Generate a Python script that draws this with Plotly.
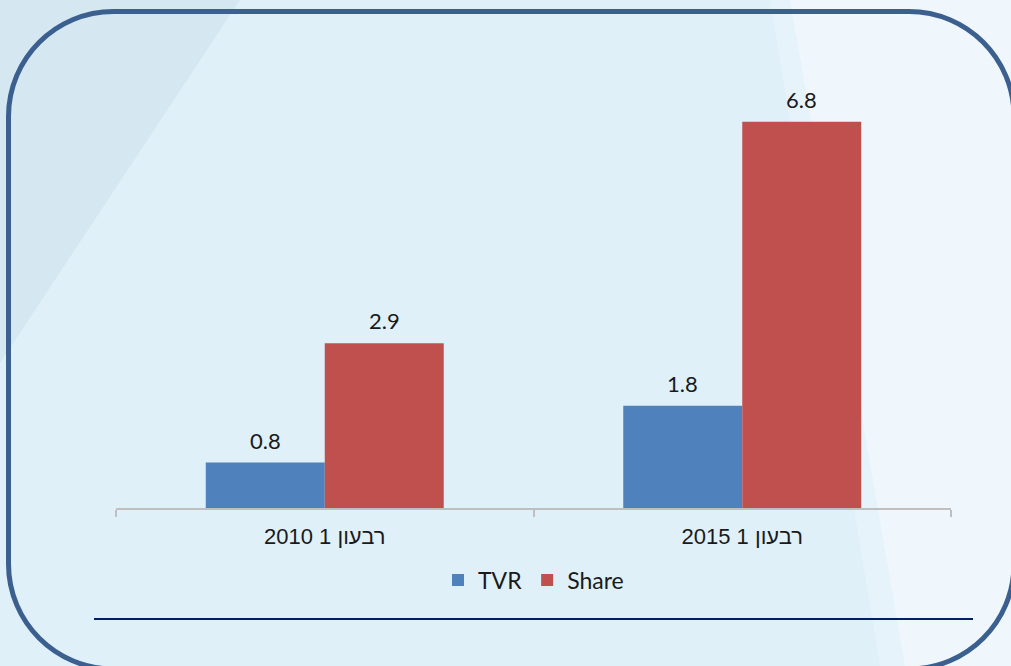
import plotly.graph_objects as go

categories = ["רבעון 1 2010", "רבעון 1 2015"]
series_names = ["TVR", "Share"]
tvr_values = [0.8, 1.8]
share_values = [2.9, 6.8]
value_labels_tvr = ["0.8", "1.8"]
value_labels_share = ["2.9", "6.8"]

W, H = 1011, 666
L, R, T, B = 116, 951, 80, 508  # plot area in pixels
PX_PER_UNIT = 56.8
YMAX = (B - T) / PX_PER_UNIT
BARGAP = 0.43
CAT_PX = (R - L) / len(categories)
BAR_PX = CAT_PX * (1 - BARGAP) / 2

LABEL_FONT = dict(family="Lato, Open Sans, sans-serif", size=22, color="#1a1a1a")


def px(x):
    return (x - L) / (R - L)


def py(y):
    return (B - y) / (B - T)


def path(points, close=True):
    s = "M" + " L".join(f"{px(x):.5f},{py(y):.5f}" for x, y in points)
    return s + (" Z" if close else "")


def rounded_rect(x0, y0, x1, y1, r):
    k = 0.5523 * r
    P = lambda x, y: f"{px(x):.5f},{py(y):.5f}"
    return (
        f"M{P(x0 + r, y0)} L{P(x1 - r, y0)} "
        f"C{P(x1 - r + k, y0)} {P(x1, y0 + r - k)} {P(x1, y0 + r)} "
        f"L{P(x1, y1 - r)} "
        f"C{P(x1, y1 - r + k)} {P(x1 - r + k, y1)} {P(x1 - r, y1)} "
        f"L{P(x0 + r, y1)} "
        f"C{P(x0 + r - k, y1)} {P(x0, y1 - r + k)} {P(x0, y1 - r)} "
        f"L{P(x0, y0 + r)} "
        f"C{P(x0, y0 + r - k)} {P(x0 + r - k, y0)} {P(x0 + r, y0)} Z"
    )


fig = go.Figure()
fig.add_trace(go.Bar(
    name=series_names[0], x=categories, y=tvr_values,
    marker=dict(color="#4F81BD", line=dict(width=0)),
    hoverinfo="skip",
))
fig.add_trace(go.Bar(
    name=series_names[1], x=categories, y=share_values,
    marker=dict(color="#C0504D", line=dict(width=0)),
    hoverinfo="skip",
))

annotations = []
for vals, labels, side in ((tvr_values, value_labels_tvr, -1), (share_values, value_labels_share, 1)):
    for cat, v, lab in zip(categories, vals, labels):
        annotations.append(dict(
            xref="x", yref="y", x=cat, y=v, text=lab, showarrow=False,
            xanchor="center", yanchor="bottom", xshift=side * BAR_PX / 2, yshift=7,
            font=LABEL_FONT,
        ))

shapes = [
    dict(type="path", xref="paper", yref="paper", layer="below",
         path=path([(0, 0), (240, 0), (0, 363)]),
         fillcolor="#D5E7F1", line=dict(width=0)),
    dict(type="path", xref="paper", yref="paper", layer="below",
         path=path([(770, 0), (790, 0), (905, 666), (880, 666)]),
         fillcolor="#E6F3FB", line=dict(width=0)),
    dict(type="path", xref="paper", yref="paper", layer="below",
         path=path([(790, 0), (1011, 0), (1011, 666), (905, 666)]),
         fillcolor="#EFF7FD", line=dict(width=0)),
    dict(type="path", xref="paper", yref="paper", layer="above",
         path=rounded_rect(8.5, 11.5, 1014, 669, 105),
         fillcolor="rgba(0,0,0,0)", line=dict(color="#3B6090", width=5)),
    dict(type="line", xref="paper", yref="paper", layer="above",
         x0=px(94), x1=px(973), y0=py(619), y1=py(619),
         line=dict(color="#002060", width=2)),
]

fig.update_layout(
    width=W, height=H,
    margin=dict(l=L, r=W - R, t=T, b=H - B, autoexpand=False),
    paper_bgcolor="#DFF0F9",
    plot_bgcolor="rgba(0,0,0,0)",
    barmode="group", bargap=BARGAP, bargroupgap=0,
    showlegend=True,
    legend=dict(orientation="h", x=0.5, xanchor="center", y=py(580), yanchor="middle",
                font=dict(family="Lato, Open Sans, sans-serif", size=23, color="#1a1a1a"),
                bgcolor="rgba(0,0,0,0)", itemclick=False, itemdoubleclick=False,
                tracegroupgap=0, itemwidth=30),
    shapes=shapes,
    annotations=annotations,
    xaxis=dict(
        showgrid=False, showline=True, linecolor="#BFBFBF", linewidth=1.5,
        ticks="outside", tickson="boundaries", ticklen=7, tickcolor="#BFBFBF", tickwidth=1.5,
        ticklabelstandoff=8,
        tickfont=dict(family="Liberation Sans, Arial, DejaVu Sans, sans-serif", size=22, color="#1a1a1a"),
        fixedrange=True,
    ),
    yaxis=dict(range=[0, YMAX], visible=False, showgrid=False, zeroline=False, fixedrange=True),
    hovermode=False,
)

fig.write_html("out.html", config={"displayModeBar": False},
               post_script="document.body.style.margin='0';document.body.style.overflow='hidden';")
